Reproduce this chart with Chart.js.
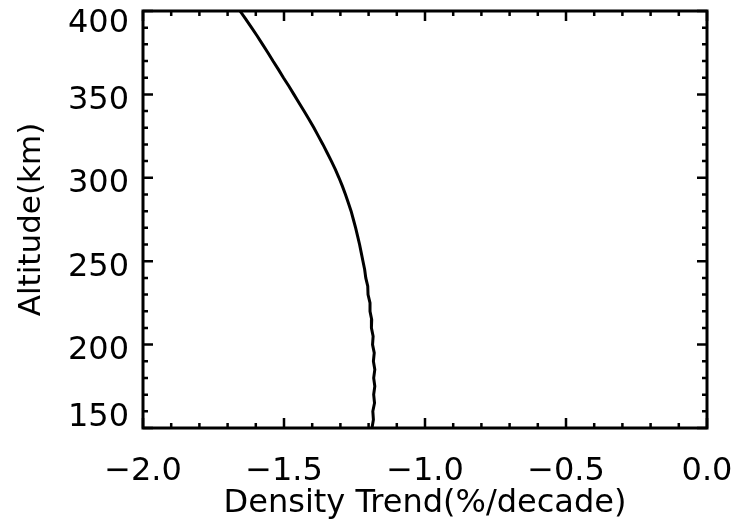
<!DOCTYPE html>
<html>
<head>
<meta charset="utf-8">
<script src="https://cdn.jsdelivr.net/npm/chart.js@4/dist/chart.umd.min.js"></script>
<style>
  html, body { margin: 0; padding: 0; background: #fff; }
  #wrap { width: 735px; height: 523px; }
</style>
</head>
<body>
<div id="wrap"><canvas id="trendChart"></canvas></div>
<script>
// altitude (km) and density trend (%/decade)
var altitudes = [400, 395, 390, 385, 380, 375, 370, 365, 360, 355, 350, 345, 340, 335, 330, 325,
  320, 315, 310, 305, 300, 295, 290, 285, 280, 275, 270, 265, 260, 255, 250, 245, 240, 235,
  230, 225, 220, 215, 210, 205, 200, 195, 190, 185, 180, 175, 170, 165, 160, 155, 150];
var trends = [-1.656, -1.635, -1.615, -1.595, -1.576, -1.557, -1.539, -1.520, -1.502, -1.483,
  -1.465, -1.447, -1.429, -1.411, -1.394, -1.378, -1.362, -1.347, -1.332, -1.318, -1.305,
  -1.293, -1.282, -1.272, -1.262, -1.254, -1.246, -1.239, -1.232, -1.226, -1.220, -1.214,
  -1.210, -1.203, -1.202, -1.195, -1.195, -1.189, -1.190, -1.184, -1.186, -1.180, -1.183,
  -1.178, -1.182, -1.178, -1.182, -1.179, -1.185, -1.183, -1.188];
var xTicks = [-2.0, -1.5, -1.0, -0.5, 0.0];
var yTicks = [150, 200, 250, 300, 350, 400];

var points = altitudes.map(function (a, i) { return { x: trends[i], y: a }; });

// IDL style frame with inward ticks on all four sides, plus y labels kept inside the frame height
var frameTicks = {
  id: 'frameTicks',
  afterDraw: function (chart) {
    var ctx = chart.ctx, a = chart.chartArea;
    var xs = chart.scales.x, ys = chart.scales.y;
    ctx.save();
    ctx.strokeStyle = '#000';
    ctx.lineWidth = 3;
    ctx.strokeRect(a.left, a.top, a.right - a.left, a.bottom - a.top);
    ctx.lineWidth = 2.5;
    ctx.beginPath();
    for (var v = -2.0; v <= 0.001; v += 0.1) {
      var px = xs.getPixelForValue(v);
      var major = Math.abs(v * 2 - Math.round(v * 2)) < 0.01;
      var len = major ? 10 : 5;
      ctx.moveTo(px, a.bottom); ctx.lineTo(px, a.bottom - len);
      ctx.moveTo(px, a.top); ctx.lineTo(px, a.top + len);
    }
    for (var h = 150; h <= 400; h += 10) {
      var py = ys.getPixelForValue(h);
      var len2 = (h % 50 === 0) ? 10 : 5;
      ctx.moveTo(a.left, py); ctx.lineTo(a.left + len2, py);
      ctx.moveTo(a.right, py); ctx.lineTo(a.right - len2, py);
    }
    ctx.stroke();

    ctx.fillStyle = '#000';
    ctx.font = '32px "DejaVu Sans"';
    ctx.textAlign = 'right';
    ctx.textBaseline = 'middle';
    yTicks.forEach(function (t) {
      var off = 6;
      if (t === ys.max) off = 13;
      if (t === ys.min) off = -10;
      ctx.fillText(String(t), a.left - 14, ys.getPixelForValue(t) + off);
    });
    ctx.restore();
  }
};

var ctx = document.getElementById('trendChart').getContext('2d');
var trendChart = new Chart(ctx, {
  type: 'line',
  data: {
    datasets: [{
      data: points,
      borderColor: '#000',
      borderWidth: 3,
      pointRadius: 0,
      tension: 0,
      fill: false
    }]
  },
  options: {
    responsive: true,
    maintainAspectRatio: false,
    animation: false,
    layout: { padding: { left: 0, right: 28, top: 11, bottom: 0 } },
    plugins: { legend: { display: false }, tooltip: { enabled: false } },
    scales: {
      x: {
        type: 'linear',
        min: -2, max: 0,
        afterBuildTicks: function (s) { s.ticks = xTicks.map(function (v) { return { value: v }; }); },
        afterFit: function (s) { s.height = 95; s.paddingLeft = 0; s.paddingRight = 0; },
        grid: { display: false },
        border: { display: false },
        ticks: {
          color: '#000',
          padding: 16,
          maxRotation: 0,
          font: { family: 'DejaVu Sans', size: 32 },
          callback: function (v) { return (v < 0 ? '\u2212' : '') + Math.abs(v).toFixed(1); }
        },
        title: {
          display: true,
          text: 'Density Trend(%/decade)',
          color: '#000',
          padding: { top: 2, bottom: 0 },
          font: { family: 'DejaVu Sans', size: 32 }
        }
      },
      y: {
        type: 'linear',
        min: 150, max: 400,
        afterBuildTicks: function (s) { s.ticks = yTicks.map(function (v) { return { value: v }; }); },
        afterFit: function (s) { s.width = 143; s.paddingTop = 0; s.paddingBottom = 0; },
        grid: { display: false },
        border: { display: false },
        ticks: { display: false },
        title: {
          display: true,
          text: 'Altitude(km)',
          color: '#000',
          padding: { top: 13, bottom: 0 },
          font: { family: 'DejaVu Sans', size: 31 }
        }
      }
    }
  },
  plugins: [frameTicks]
});
</script>
</body>
</html>
